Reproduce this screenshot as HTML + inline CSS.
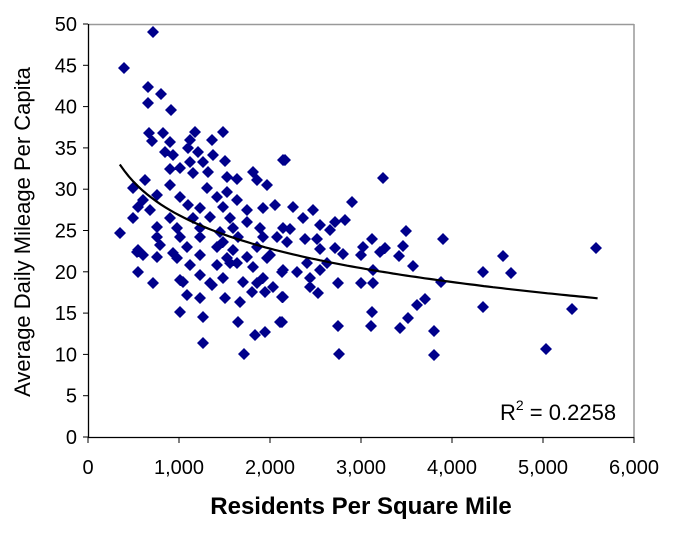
<!DOCTYPE html>
<html><head><meta charset="utf-8"><style>
body{margin:0;background:#fff;width:680px;height:532px;overflow:hidden}
text{font-family:"Liberation Sans",sans-serif}
</style></head><body>
<svg id="s" width="680" height="532" xmlns="http://www.w3.org/2000/svg">
<line x1="88" y1="24.5" x2="634" y2="24.5" stroke="#999" stroke-width="1.5"/>
<line x1="634" y1="24" x2="634" y2="437" stroke="#999" stroke-width="1.5"/>
<line x1="88.5" y1="24" x2="88.5" y2="438" stroke="#000" stroke-width="1.3"/>
<line x1="88" y1="437.5" x2="634" y2="437.5" stroke="#000" stroke-width="1.3"/>
<g id="ticks"></g>
<path id="pts" fill="#00008b"/>
<path id="trend" fill="none" stroke="#000" stroke-width="2.2"/>
<text x="500" y="420" font-size="22">R<tspan dy="-10" font-size="14">2</tspan><tspan dy="10"> = 0.2258</tspan></text>
<text x="361" y="514" font-size="24" font-weight="bold" text-anchor="middle">Residents Per Square Mile</text>
<text transform="translate(30,232) rotate(-90)" font-size="22" text-anchor="middle">Average Daily Mileage Per Capita</text>
</svg>
<script>
var P=[[153,32],[124,68],[148,87],[161,94],[148,103],[171,110],[149,133],[163,133],[152,141],[195,132],[223,132],[190,140],[212,140],[170,142],[188,148],[198,152],[165,152],[173,155],[213,155],[283,160],[190,162],[203,162],[225,161],[170,169],[180,168],[193,173],[208,172],[253,172],[227,177],[237,179],[257,180],[267,185],[133,188],[170,185],[207,188],[217,197],[227,192],[157,195],[180,197],[237,200],[188,205],[275,205],[138,207],[150,210],[200,208],[223,207],[247,210],[263,208],[133,218],[170,218],[193,218],[210,217],[230,218],[247,222],[283,228],[120,233],[157,227],[177,228],[200,228],[220,232],[233,228],[260,228],[157,237],[180,237],[200,237],[223,242],[238,237],[263,237],[277,237],[160,245],[187,247],[217,247],[233,250],[257,247],[137,252],[143,255],[173,253],[200,255],[227,258],[247,257],[267,258],[157,257],[190,265],[217,265],[237,263],[253,267],[283,270],[138,272],[180,280],[200,275],[223,278],[243,282],[263,278],[153,283],[210,283],[273,287],
[183,282],[212,285],[257,283],[265,292],[282,272],[187,295],[200,298],[225,298],[240,302],[252,292],[282,297],[180,312],[203,317],[238,322],[280,322],[255,335],[265,332],[203,343],[244,354],[177,258],[230,263],[270,255],
[285,160],[383,178],[352,202],[293,207],[313,210],[303,218],[345,220],[320,225],[335,222],[330,230],[290,229],[406,231],[443,239],[372,239],[305,239],[317,239],[287,242],[363,247],[385,248],[403,246],[380,252],[335,248],[343,254],[320,249],[361,255],[399,256],[503,256],[596,248],[307,263],[327,263],[413,266],[373,270],[483,272],[511,273],[297,272],[283,270],[320,270],[310,278],[338,283],[361,283],[373,283],[441,282],[310,287],[318,293],[283,297],[425,299],[417,305],[483,307],[572,309],[372,312],[408,318],[282,322],[338,326],[371,326],[400,328],[434,331],[546,349],[339,354],[434,355],
[138,250],[143,200],[145,180]];
var d="";P.forEach(function(p){d+="M"+p[0]+","+(p[1]-6)+"l6,6l-6,6l-6,-6z";});
document.getElementById("pts").setAttribute("d",d);
var t="";for(var x=350;x<=5600;x+=50){var v=67.2-5.84*Math.log(x);t+=(x==350?"M":"L")+(88+x*0.091).toFixed(1)+","+(437-v*8.26).toFixed(1);}
document.getElementById("trend").setAttribute("d",t);
var g="";for(var k=0;k<=10;k++){var y=437-k*41.3;g+='<line x1="83" x2="88" y1="'+y+'" y2="'+y+'" stroke="#000"/><text x="77" y="'+(y+7)+'" font-size="20" text-anchor="end">'+(k*5)+'</text>';}
var lab=["0","1,000","2,000","3,000","4,000","5,000","6,000"];
for(var k=0;k<=6;k++){var x=88+k*91;g+='<line x1="'+x+'" x2="'+x+'" y1="437" y2="443" stroke="#000"/><text x="'+x+'" y="474" font-size="20" text-anchor="middle">'+lab[k]+'</text>';}
document.getElementById("ticks").innerHTML=g;
</script>
</body></html>
